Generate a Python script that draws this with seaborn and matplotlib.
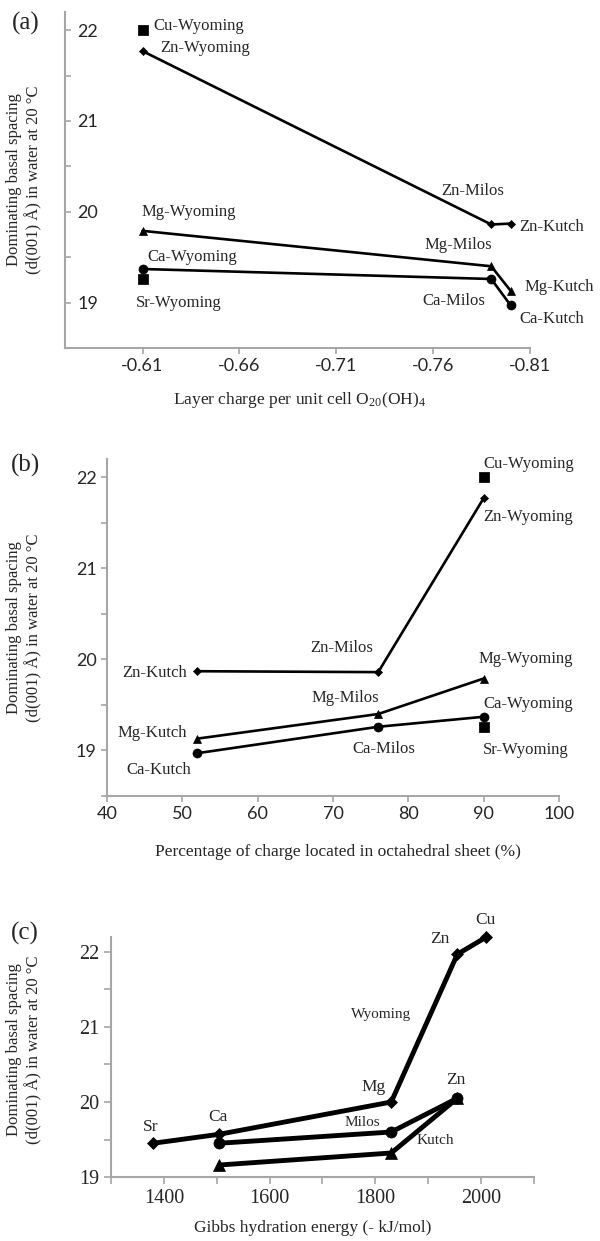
import matplotlib
matplotlib.use("Agg")
import matplotlib.pyplot as plt
import seaborn as sns
from matplotlib.ticker import MultipleLocator, FixedLocator

# data
sites = ["Wyoming", "Milos", "Kutch"]
layer_charge = [-0.61, -0.79, -0.80]
octa_pct = [90, 76, 52]
zn_d = [21.77, 19.86, 19.87]
mg_d = [19.79, 19.40, 19.13]
ca_d = [19.37, 19.26, 18.97]
cu_wyoming = 22.0
sr_wyoming = 19.26

ions_wy = ["Sr", "Ca", "Mg", "Zn", "Cu"]
gibbs_wy = [1380, 1505, 1830, 1955, 2010]
d_wy = [19.45, 19.57, 20.0, 21.97, 22.2]
ions_mk = ["Ca", "Mg", "Zn"]
gibbs_mk = [1505, 1830, 1955]
d_milos = [19.45, 19.60, 20.05]
d_kutch = [19.16, 19.32, 20.05]

sns.set_theme(style="ticks")
plt.rcParams["font.family"] = ["Liberation Serif", "DejaVu Serif"]
plt.rcParams["mathtext.fontset"] = "stix"

GREY = "#a6a6a6"
SANS = ["Lato", "DejaVu Sans"]
YLAB = "Dominating basal spacing\n(d(001) Å) in water at 20 °C"

fig = plt.figure(figsize=(6, 12.41), dpi=100)
W, H = 600, 1241


def add_ax(l, t, r, b):
    return fig.add_axes([l / W, 1 - b / H, (r - l) / W, (b - t) / H])


def style(ax, tickfont, size=13):
    for s in ["top", "right"]:
        ax.spines[s].set_visible(False)
    for s in ["left", "bottom"]:
        ax.spines[s].set_color(GREY)
        ax.spines[s].set_linewidth(1.5)
    ax.tick_params(which="both", color=GREY, width=1.2, length=4, labelsize=size)
    for lab in ax.get_xticklabels() + ax.get_yticklabels():
        lab.set_family(tickfont)


def series(ax, x, y, marker, ms, lw=1.9):
    sns.lineplot(x=x, y=y, ax=ax, sort=False, color="black", linewidth=lw,
                 marker=marker, markersize=ms, markeredgecolor="black",
                 markeredgewidth=0.5, clip_on=False)


def labels(ax, items, size=12):
    for txt, x, y, ha in items:
        ax.text(x, y, txt, ha=ha, va="center", fontsize=size)


# ---------- (a) ----------
ax = add_ax(65, 12, 530, 348)
series(ax, layer_charge, zn_d, "D", 4)
series(ax, layer_charge, mg_d, "^", 6)
series(ax, layer_charge, ca_d, "o", 6.5)
sns.scatterplot(x=[layer_charge[0]] * 2, y=[cu_wyoming, sr_wyoming], ax=ax,
                marker="s", s=45, color="black", edgecolor="black", zorder=5,
                clip_on=False)
ax.set_xlim(-0.57, -0.81)
ax.set_ylim(18.5, 22.2)
ax.xaxis.set_major_locator(FixedLocator([-0.61, -0.66, -0.71, -0.76, -0.81]))
ax.set_xticklabels(["-0.61", "-0.66", "-0.71", "-0.76", "-0.81"])
ax.yaxis.set_major_locator(FixedLocator([19, 20, 21, 22]))
ax.yaxis.set_minor_locator(FixedLocator([18.5, 19.5, 20.5, 21.5]))
style(ax, SANS)
ax.tick_params(axis="y", which="both", direction="in", pad=-9)
for lab in ax.get_yticklabels():
    lab.set_horizontalalignment("left")
labels(ax, [
    ("Cu-Wyoming", -0.6157, 22.05, "left"),
    ("Zn-Wyoming", -0.6193, 21.80, "left"),
    ("Zn-Milos", -0.7806, 20.23, "center"),
    ("Zn-Kutch", -0.8043, 19.83, "left"),
    ("Mg-Wyoming", -0.6337, 20.00, "center"),
    ("Mg-Milos", -0.7729, 19.63, "center"),
    ("Mg-Kutch", -0.8074, 19.17, "left"),
    ("Ca-Wyoming", -0.6358, 19.50, "center"),
    ("Ca-Milos", -0.7708, 19.02, "center"),
    ("Ca-Kutch", -0.8043, 18.82, "left"),
    ("Sr-Wyoming", -0.6286, 19.00, "center"),
])
ax.set_xlabel(r"Layer charge per unit cell O$_{\mathregular{20}}$(OH)$_{\mathregular{4}}$",
              fontsize=12.5)
ax.xaxis.label.set_va("center")
ax.xaxis.set_label_coords(0.505, -0.155)
ax.set_ylabel(YLAB, fontsize=12)
ax.yaxis.label.set_va("center")
ax.yaxis.set_label_coords(-0.088, 0.5)
fig.text(26 / W, 1 - 23 / H, "(a)", fontsize=18, ha="center", va="center")

# ---------- (b) ----------
ax = add_ax(107, 459, 559, 796)
series(ax, octa_pct, zn_d, "D", 4)
series(ax, octa_pct, mg_d, "^", 6)
series(ax, octa_pct, ca_d, "o", 6.5)
sns.scatterplot(x=[octa_pct[0]] * 2, y=[cu_wyoming, sr_wyoming], ax=ax,
                marker="s", s=45, color="black", edgecolor="black", zorder=5,
                clip_on=False)
ax.set_xlim(40, 100)
ax.set_ylim(18.5, 22.2)
ax.xaxis.set_major_locator(MultipleLocator(10))
ax.yaxis.set_major_locator(FixedLocator([19, 20, 21, 22]))
ax.yaxis.set_minor_locator(FixedLocator([18.5, 19.5, 20.5, 21.5]))
style(ax, SANS)
labels(ax, [
    ("Cu-Wyoming", 89.9, 22.14, "left"),
    ("Zn-Wyoming", 89.9, 21.56, "left"),
    ("Zn-Milos", 71.1, 20.12, "center"),
    ("Zn-Kutch", 50.6, 19.85, "right"),
    ("Mg-Wyoming", 89.3, 20.00, "left"),
    ("Mg-Milos", 71.7, 19.58, "center"),
    ("Mg-Kutch", 50.6, 19.19, "right"),
    ("Ca-Wyoming", 89.9, 19.51, "left"),
    ("Ca-Milos", 76.8, 19.02, "center"),
    ("Sr-Wyoming", 89.9, 19.01, "left"),
    ("Ca-Kutch", 46.9, 18.79, "center"),
])
ax.set_xlabel("Percentage of charge located in octahedral sheet (%)", fontsize=12.5)
ax.xaxis.label.set_va("center")
ax.xaxis.set_label_coords(0.511, -0.166)
ax.set_ylabel(YLAB, fontsize=12)
ax.yaxis.label.set_va("center")
ax.yaxis.set_label_coords(-0.184, 0.5)
fig.text(26 / W, 1 - 465 / H, "(b)", fontsize=18, ha="center", va="center")

# ---------- (c) ----------
ax = add_ax(111, 937, 534, 1177)
series(ax, gibbs_wy, d_wy, "D", 6, lw=3.5)
series(ax, gibbs_mk, d_milos, "o", 8, lw=3.5)
series(ax, gibbs_mk, d_kutch, "^", 8, lw=3.5)
ax.set_xlim(1300, 2100)
ax.set_ylim(19, 22.2)
ax.xaxis.set_major_locator(FixedLocator([1400, 1600, 1800, 2000]))
ax.xaxis.set_minor_locator(FixedLocator([1300, 1500, 1700, 1900, 2100]))
ax.yaxis.set_major_locator(FixedLocator([19, 20, 21, 22]))
ax.yaxis.set_minor_locator(FixedLocator([19.5, 20.5, 21.5]))
style(ax, ["Liberation Serif", "DejaVu Serif"], size=14.5)
ax.tick_params(which="both", length=5)
labels(ax, [
    ("Sr", 1374, 19.67, "center"),
    ("Ca", 1503, 19.80, "center"),
    ("Mg", 1797, 20.20, "center"),
    ("Zn", 1953, 20.29, "center"),
    ("Zn", 1921, 22.17, "center"),
    ("Cu", 2008, 22.43, "center"),
], size=12.5)
labels(ax, [
    ("Wyoming", 1810, 21.16, "center"),
    ("Milos", 1775, 19.73, "center"),
    ("Kutch", 1913, 19.49, "center"),
], size=11)
ax.set_xlabel("Gibbs hydration energy (- kJ/mol)", fontsize=12.5)
ax.xaxis.label.set_va("center")
ax.xaxis.set_label_coords(0.476, -0.2125)
ax.set_ylabel(YLAB, fontsize=12)
ax.yaxis.label.set_va("center")
ax.yaxis.set_label_coords(-0.205, 0.53)
fig.text(25 / W, 1 - 933 / H, "(c)", fontsize=18, ha="center", va="center")

fig.savefig("out.png", dpi=100)
